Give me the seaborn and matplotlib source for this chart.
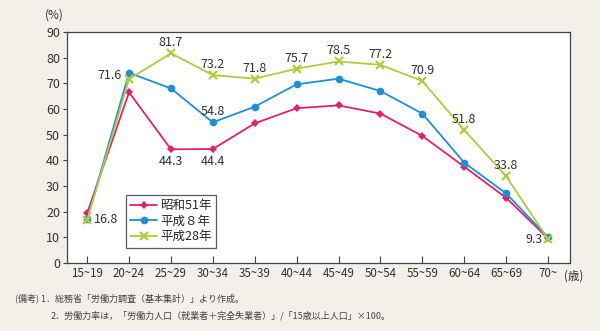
import matplotlib
matplotlib.use("Agg")
import matplotlib.pyplot as plt
import seaborn as sns
import pandas as pd

ages = ["15~19", "20~24", "25~29", "30~34", "35~39", "40~44", "45~49",
        "50~54", "55~59", "60~64", "65~69", "70~"]
showa51 = [19.4, 66.5, 44.3, 44.4, 54.4, 60.3, 61.4, 58.2, 49.5, 37.5, 25.4, 9.6]
heisei8 = [17.0, 74.1, 68.0, 54.8, 60.9, 69.6, 71.8, 67.0, 58.2, 39.1, 27.1, 10.0]
heisei28 = [16.8, 71.6, 81.7, 73.2, 71.8, 75.7, 78.5, 77.2, 70.9, 51.8, 33.8, 9.3]
series_names = ["昭和51年", "平成８年", "平成28年"]
yticks = [0, 10, 20, 30, 40, 50, 60, 70, 80, 90]

sns.set_theme(style="white")
plt.rcParams["font.family"] = ["Noto Sans CJK JP", "DejaVu Sans"]

bg = "#f3efe9"
fig = plt.figure(figsize=(6.0, 3.31), dpi=100, facecolor=bg)
ax = fig.add_axes([0.1117, 0.2054, 0.838, 0.698])
ax.set_facecolor("white")

colors = ["#e0226e", "#1f8fd4", "#b3c942"]
markers = ["D", "o", "x"]
msizes = [4.5, 5.5, 5.5]
datas = [showa51, heisei8, heisei28]
xpos = list(range(len(ages)))
handles = []
for name, vals, c, m, ms in zip(series_names, datas, colors, markers, msizes):
    df = pd.DataFrame({"x": xpos, "y": vals})
    sns.lineplot(data=df, x="x", y="y", ax=ax, color=c, marker=m,
                 markersize=ms, linewidth=1.3, markeredgewidth=1.6 if m == "x" else 0,
                 markeredgecolor=c, label=name, legend=False)
    handles.append(ax.lines[-1])

ax.set_xlim(-0.48, 11.52)
ax.set_ylim(0, 90)
ax.set_yticks(yticks)
ax.set_yticklabels([str(v) for v in yticks], fontsize=9, color="#333333")
ax.set_xticks(xpos)
ax.set_xticklabels(ages, fontsize=8.3, color="#333333")
ax.set_xlabel("")
ax.set_ylabel("")
ax.tick_params(axis="x", direction="in", length=5, width=0.8, color="#444444", pad=3)
ax.tick_params(axis="y", direction="out", length=3, width=0.8, color="#444444", pad=2)
ax.tick_params(bottom=True, left=True)
for s in ax.spines.values():
    s.set_color("#444444")
    s.set_linewidth(0.9)

fs = 9
txtc = "#333333"
def lab(i, vals, dx, dy, ha="center", va="bottom"):
    ax.annotate(f"{vals[i]:.1f}", (i, vals[i]), xytext=(dx, dy),
                textcoords="offset points", ha=ha, va=va, fontsize=fs, color=txtc)

lab(0, heisei28, 5, 0, ha="left", va="center")
lab(1, heisei28, -5, 3, ha="right", va="center")
for i in [2, 3, 4, 5, 6, 7, 9, 10]:
    lab(i, heisei28, 0, 3)
lab(8, heisei28, 0, 3)
lab(11, heisei28, -4, 0, ha="right", va="center")
lab(3, heisei8, 0, 3)
lab(2, showa51, 0, -4, va="top")
lab(3, showa51, 0, -4, va="top")

leg = ax.legend(handles=handles, labels=series_names, loc="lower left",
                bbox_to_anchor=(0.105, 0.04), fontsize=9, frameon=True,
                fancybox=False, edgecolor="#333333", handlelength=2.1,
                borderpad=0.35, labelspacing=0.2, handletextpad=0.3)
leg.get_frame().set_linewidth(0.9)

fig.text(0.075, 0.935, "(%)", fontsize=8.5, color=txtc, ha="left", va="bottom")
fig.text(0.94, 0.165, "(歳)", fontsize=8.3, color=txtc, ha="left", va="center")
fig.text(0.025, 0.10, "(備考) 1．総務省「労働力調査（基本集計）」より作成。",
         fontsize=6.5, color="#444444", ha="left", va="center")
fig.text(0.085, 0.045, "2．労働力率は，「労働力人口（就業者＋完全失業者）」/「15歳以上人口」×100。",
         fontsize=6.5, color="#444444", ha="left", va="center")

fig.savefig("out.png", dpi=100, facecolor=bg)
